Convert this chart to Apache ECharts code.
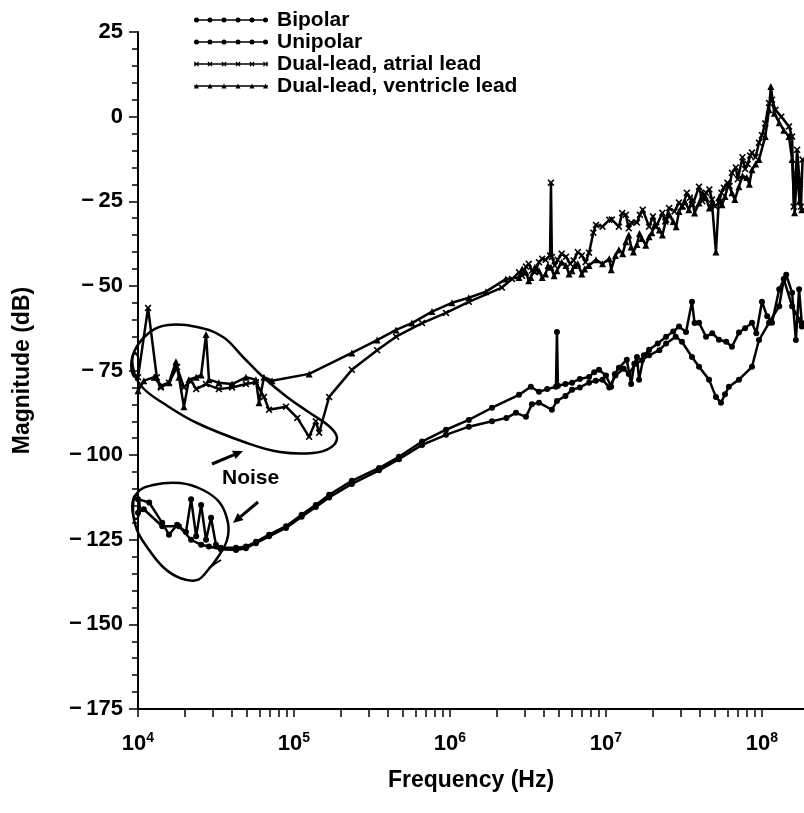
<!DOCTYPE html>
<html><head><meta charset="utf-8">
<script src="https://cdn.jsdelivr.net/npm/echarts@6/dist/echarts.min.js"></script>
<style>html,body{margin:0;padding:0;background:#fff}#c{width:804px;height:813px}</style>
</head><body><div id="c"></div>
<script>
// ---------------- data (frequency Hz, magnitude dB) ----------------
const seriesNames = ['Bipolar', 'Unipolar', 'Dual-lead, atrial lead', 'Dual-lead, ventricle lead'];

const bipolar = [
 [1.0e4,-113],[1.18e4,-114],[1.43e4,-120],[1.58e4,-123.5],[1.78e4,-120.6],[2.03e4,-122.7],[2.19e4,-113],
 [2.36e4,-124],[2.54e4,-114.7],[2.73e4,-125],[2.94e4,-118.5],[3.16e4,-126.5],[3.40e4,-127.4],[4.25e4,-127.4],
 [4.92e4,-127],[5.70e4,-125.6],[6.92e4,-123.5],[8.89e4,-121],[1.12e5,-117.6],[1.38e5,-114.7],[1.68e5,-111.7],
 [2.35e5,-107.6],[3.51e5,-103.8],[4.71e5,-100.5],[6.62e5,-96],[9.43e5,-92.5],[1.32e6,-89.6],[1.86e6,-86],
 [2.77e6,-82.2],[3.30e6,-79.8],[3.72e6,-81.3],[4.20e6,-80.5],[4.78e6,-79.8],[4.85e6,-63.6],[4.92e6,-79.5],
 [5.50e6,-79],[6.06e6,-78.6],[6.80e6,-77.5],[7.79e6,-76.9],[8.40e6,-75.5],[9.02e6,-74.8],[1.00e7,-76.5],
 [1.08e7,-79.8],[1.14e7,-76],[1.21e7,-74.2],[1.36e7,-71.8],[1.45e7,-79],[1.52e7,-73],[1.58e7,-71],
 [1.63e7,-77.7],[1.75e7,-70.5],[1.89e7,-68.9],[2.15e7,-67],[2.43e7,-65],[2.70e7,-63.5],[2.94e7,-62],
 [3.26e7,-63.6],[3.56e7,-54.7],[3.70e7,-61],[3.95e7,-60.9],[4.38e7,-65],[4.80e7,-64],[5.30e7,-65.9],
 [5.90e7,-66.5],[6.42e7,-68],[7.12e7,-63.8],[7.80e7,-62.5],[8.63e7,-60.9],[9.20e7,-64],[1.00e8,-54.7],
 [1.08e8,-59],[1.16e8,-60.9],[1.29e8,-51],[1.43e8,-46.7],[1.56e8,-52],[1.65e8,-66],[1.73e8,-51],[1.80e8,-61]
];

const unipolar = [
 [1.0e4,-117],[1.09e4,-116],[1.43e4,-121],[1.83e4,-121],[2.19e4,-125],[2.54e4,-126.5],[2.85e4,-127],
 [3.40e4,-127.8],[4.25e4,-128],[4.92e4,-127.5],[5.70e4,-126],[6.92e4,-124],[8.89e4,-121.5],[1.12e5,-118.2],
 [1.38e5,-115.3],[1.68e5,-112.5],[2.35e5,-108.5],[3.51e5,-104.5],[4.71e5,-101.2],[6.62e5,-97],[9.43e5,-94],
 [1.32e6,-91.6],[1.86e6,-90],[2.30e6,-89],[2.65e6,-87.5],[3.07e6,-88.7],[3.35e6,-85],[3.72e6,-84.5],
 [4.50e6,-86.6],[4.85e6,-84],[5.50e6,-82.5],[6.06e6,-80.7],[6.80e6,-80],[7.79e6,-78.6],[8.60e6,-78],
 [9.50e6,-77.7],[1.05e7,-80],[1.15e7,-76.5],[1.30e7,-74.5],[1.40e7,-76],[1.55e7,-73],[1.70e7,-72],
 [1.89e7,-70.5],[2.20e7,-69],[2.43e7,-67],[2.80e7,-65],[3.07e7,-66.5],[3.56e7,-71],[3.95e7,-73.9],
 [4.58e7,-77.7],[5.07e7,-82.8],[5.46e7,-84.5],[5.80e7,-82],[6.14e7,-79.8],[7.12e7,-77.7],[8.63e7,-73.9],
 [9.57e7,-66],[1.11e8,-60.9],[1.29e8,-56],[1.38e8,-48],[1.56e8,-56],[1.73e8,-60],[1.80e8,-62]
];

const atrial = [
 [1.0e4,-77],[1.16e4,-56.5],[1.32e4,-77],[1.40e4,-80],[1.58e4,-78.6],[1.78e4,-74],[1.97e4,-80],[2.19e4,-78],
 [2.36e4,-80.5],[2.73e4,-79],[3.30e4,-80.5],[4.01e4,-80],[4.92e4,-79],[5.70e4,-78.5],[6.42e4,-82.8],
 [6.92e4,-86.6],[8.89e4,-85.7],[1.05e5,-89],[1.25e5,-94.6],[1.38e5,-90],[1.45e5,-93.4],[1.68e5,-82.8],
 [2.35e5,-74.8],[3.41e5,-69],[4.51e5,-65],[6.62e5,-61],[9.43e5,-58],[1.32e6,-54.7],[2.15e6,-50.5],
 [2.50e6,-48],[2.77e6,-46],[2.90e6,-47],[3.07e6,-44.3],[3.20e6,-43.5],[3.35e6,-45.5],[3.50e6,-46],
 [3.72e6,-43],[3.90e6,-42],[4.10e6,-42.3],[4.38e6,-41],[4.44e6,-19.5],[4.50e6,-41.5],[4.70e6,-44],
 [4.90e6,-42.3],[5.20e6,-40.5],[5.54e6,-41.4],[5.90e6,-43.5],[6.20e6,-42.5],[6.60e6,-40],[7.00e6,-41],
 [7.40e6,-43],[7.79e6,-40.2],[8.30e6,-34.3],[8.63e6,-32],[9.50e6,-32.5],[1.05e7,-30.5],[1.09e7,-30.4],
 [1.21e7,-32.5],[1.27e7,-28.5],[1.34e7,-29],[1.40e7,-33],[1.45e7,-31.3],[1.58e7,-31.3],[1.65e7,-29],
 [1.72e7,-27.5],[1.89e7,-32.5],[2.00e7,-29.5],[2.10e7,-32.5],[2.30e7,-28.4],[2.40e7,-31],[2.54e7,-27],
 [2.75e7,-28],[2.94e7,-25.4],[3.10e7,-26.5],[3.30e7,-22.5],[3.45e7,-24],[3.60e7,-26],[3.95e7,-20.7],
 [4.15e7,-25],[4.38e7,-22.5],[4.60e7,-21.5],[4.78e7,-24.5],[5.00e7,-26.5],[5.30e7,-25.4],[5.50e7,-22.5],
 [5.70e7,-21],[6.00e7,-19.5],[6.20e7,-20.5],[6.42e7,-16.6],[6.80e7,-15],[7.00e7,-18.5],[7.50e7,-12],
 [7.80e7,-15.5],[8.10e7,-14],[8.40e7,-11.5],[8.63e7,-10.6],[9.10e7,-12],[9.57e7,-7.7],[1.00e8,-5.5],
 [1.05e8,-2],[1.11e8,4],[1.16e8,5],[1.22e8,2],[1.33e8,0],[1.49e8,-2.9],[1.56e8,-5.9],[1.60e8,-26.6],
 [1.68e8,-9.8],[1.75e8,-20],[1.78e8,-26.6],[1.82e8,-12.7]
];

const ventricle = [
 [1.0e4,-81],[1.09e4,-78],[1.27e4,-77],[1.40e4,-79.5],[1.58e4,-78.6],[1.75e4,-72.4],[1.83e4,-77],
 [1.97e4,-85.7],[2.12e4,-77.7],[2.36e4,-77],[2.54e4,-76.3],[2.73e4,-64.4],[2.85e4,-77.7],[3.30e4,-78.6],
 [4.01e4,-79],[4.92e4,-77],[5.70e4,-77.7],[5.97e4,-84.5],[6.42e4,-77],[7.23e4,-78],[1.25e5,-76],
 [2.35e5,-69.8],[3.41e5,-66],[4.51e5,-63],[5.70e5,-61],[7.67e5,-57.6],[1.03e6,-55],[1.32e6,-53.5],
 [1.70e6,-51.7],[2.28e6,-48],[2.77e6,-47.5],[2.90e6,-45],[3.07e6,-46],[3.20e6,-48.5],[3.30e6,-47.5],
 [3.50e6,-44.5],[3.72e6,-45.5],[3.90e6,-47.5],[4.10e6,-46.5],[4.25e6,-44],[4.44e6,-44.5],[4.65e6,-47],
 [4.85e6,-45.5],[5.20e6,-43],[5.54e6,-44],[5.80e6,-46.5],[6.06e6,-45.5],[6.30e6,-44],[6.60e6,-43.5],
 [7.00e6,-46.5],[7.30e6,-45],[7.79e6,-44],[8.63e6,-42.3],[9.50e6,-43.5],[1.05e7,-42],[1.08e7,-45.2],
 [1.15e7,-41],[1.21e7,-39.3],[1.28e7,-40.5],[1.34e7,-37],[1.40e7,-35],[1.45e7,-38.5],[1.50e7,-40],
 [1.58e7,-37.8],[1.64e7,-34.5],[1.70e7,-36],[1.80e7,-38],[1.89e7,-35.5],[1.97e7,-34.3],[2.05e7,-32],
 [2.20e7,-33.5],[2.30e7,-35],[2.43e7,-30.4],[2.55e7,-29],[2.70e7,-31],[2.82e7,-32.5],[2.94e7,-28],
 [3.07e7,-26.5],[3.20e7,-25],[3.40e7,-27.5],[3.56e7,-24.5],[3.70e7,-28.5],[3.95e7,-25.5],[4.15e7,-22.5],
 [4.38e7,-24],[4.60e7,-27],[4.78e7,-25.5],[5.07e7,-40],[5.30e7,-24],[5.55e7,-26],[5.80e7,-23.6],
 [6.10e7,-20],[6.42e7,-22.5],[6.70e7,-24.5],[7.12e7,-20.7],[7.50e7,-17.5],[8.00e7,-18],[8.30e7,-20],
 [8.63e7,-15.7],[9.10e7,-14],[9.57e7,-12.7],[1.05e8,-5.9],[1.11e8,2],[1.14e8,8.9],[1.20e8,1],[1.29e8,-1.8],
 [1.38e8,-4],[1.49e8,-5.9],[1.56e8,-12.7],[1.62e8,-28.4],[1.68e8,-15.7],[1.74e8,-25],[1.80e8,-27.5]
];

const xLabelValues = [1e4, 1e5, 1e6, 1e7, 1e8];
const xLabelExponents = ['4', '5', '6', '7', '8'];
const yTickLabels = [25, 0, -25, -50, -75, -100, -125, -150, -175];

// ---------------- rendering ----------------
const FONT = '"Liberation Sans", Arial, Helvetica, sans-serif';
const X_MIN = 1e4, X_MAX = 1.86e8;

const xTickValues = [];
for (let d = 4; d <= 8; d++) for (let k = 1; k <= 9; k++) {
  const v = k * Math.pow(10, d);
  if (v <= X_MAX) xTickValues.push(v);
}

const X_SYMBOL = 'path://M0,1.6L1.6,0L5,3.4L8.4,0L10,1.6L6.6,5L10,8.4L8.4,10L5,6.6L1.6,10L0,8.4L3.4,5Z';

function markerPath(kind, cx, cy, r) {
  if (kind === 'circle') {
    return `M${cx - r},${cy}A${r},${r} 0 1,1 ${cx + r},${cy}A${r},${r} 0 1,1 ${cx - r},${cy}Z`;
  }
  if (kind === 'triangle') {
    return `M${cx - r},${cy + r}L${cx},${cy - r}L${cx + r},${cy + r}Z`;
  }
  const t = r * 0.35;
  const p = [[-r, -r + t], [-r + t, -r], [0, -t], [r - t, -r], [r, -r + t], [t, 0], [r, r - t], [r - t, r], [0, t], [-r + t, r], [-r, r - t], [-t, 0]];
  return 'M' + p.map(q => (cx + q[0]) + ',' + (cy + q[1])).join('L') + 'Z';
}
function legendIcon(kind) {
  let p = 'M0,1.8L74,1.8L74,3.2L0,3.2Z';
  [2.5, 16, 30, 44, 58, 71.5].forEach(x => { p += markerPath(kind, x, 2.5, 2.5); });
  return 'path://' + p;
}

const seriesSymbols = ['circle', 'circle', X_SYMBOL, 'triangle'];
const seriesSizes = [6, 6, 7, 7];
const legendKinds = ['circle', 'circle', 'x', 'triangle'];
const seriesData = [bipolar, unipolar, atrial, ventricle];

const chart = echarts.init(document.getElementById('c'), null, { renderer: 'canvas' });

function arrow(x1, y1, x2, y2) {
  const a = Math.atan2(y2 - y1, x2 - x1), L = 10, W = 4.5;
  const bx = x2 - L * Math.cos(a), by = y2 - L * Math.sin(a);
  return [
    { type: 'line', shape: { x1, y1, x2: bx, y2: by }, style: { stroke: '#000', lineWidth: 3 } },
    { type: 'polygon', shape: { points: [[x2, y2], [bx - W * Math.sin(a), by + W * Math.cos(a)], [bx + W * Math.sin(a), by - W * Math.cos(a)]] }, style: { fill: '#000' } }
  ];
}

const loopStyle = { fill: 'none', stroke: '#000', lineWidth: 2.5 };
const annotations = [
  { type: 'polygon', shape: { smooth: 0.4, points: [[134,352],[150,332],[168,325],[197,327],[223,337],[243,357],[263,377],[287,397],[310,413],[330,427],[337,438],[330,448],[313,453],[280,452],[247,443],[197,423],[163,403],[143,388],[134,372]] }, style: loopStyle },
  { type: 'ellipse', shape: { cx: 135, cy: 365, rx: 4, ry: 12 }, style: { fill: 'none', stroke: '#000', lineWidth: 2 } },
  { type: 'polygon', shape: { smooth: 0.4, points: [[137,493],[153,485],[180,483],[203,490],[220,503],[228,523],[227,540],[218,557],[208,570],[197,580],[180,578],[163,567],[147,547],[137,530],[133,510]] }, style: loopStyle },
  { type: 'ellipse', shape: { cx: 136, cy: 507, rx: 4, ry: 12 }, style: { fill: 'none', stroke: '#000', lineWidth: 2 } },
  { type: 'polyline', shape: { points: [[209, 568], [216, 563], [221, 560]] }, style: { fill: 'none', stroke: '#000', lineWidth: 2 } },
  ...arrow(212, 464, 243, 451),
  ...arrow(258, 502, 233, 523),
  { type: 'text', left: 222, top: 468, style: { text: 'Noise', font: 'bold 21px ' + FONT, fill: '#000' } }
];

chart.setOption({
  animation: false,
  backgroundColor: '#fff',
  textStyle: { fontFamily: FONT, color: '#000' },
  grid: { left: 138, right: 0, top: 32, bottom: 104, containLabel: false },
  legend: {
    orient: 'vertical', left: 189, top: 4, itemGap: 0, itemWidth: 74, itemHeight: 5,
    selectedMode: false,
    textStyle: { fontFamily: FONT, fontSize: 21, fontWeight: 'bold', color: '#000', lineHeight: 22, padding: [0, 0, 0, 4] },
    data: seriesNames.map((n, i) => ({ name: n, icon: legendIcon(legendKinds[i]) }))
  },
  xAxis: {
    type: 'log', logBase: 10, min: X_MIN, max: X_MAX,
    name: 'Frequency (Hz)', nameLocation: 'middle', nameGap: 60,
    nameTextStyle: { fontFamily: FONT, fontSize: 23, fontWeight: 'bold', color: '#000' },
    axisLine: { show: true, onZero: false, lineStyle: { color: '#000', width: 2 } },
    axisTick: { show: true, length: 8, lineStyle: { color: '#000', width: 1.5 }, customValues: xTickValues },
    axisLabel: {
      show: true, margin: 22, customValues: xLabelValues,
      formatter: v => {
        const i = xLabelValues.findIndex(x => Math.abs(Math.log10(x) - Math.log10(v)) < 1e-6);
        return '{b|10}{s|' + (i >= 0 ? xLabelExponents[i] : Math.round(Math.log10(v))) + '}';
      },
      rich: {
        b: { fontFamily: FONT, fontSize: 22, fontWeight: 'bold', color: '#000', verticalAlign: 'bottom', lineHeight: 24 },
        s: { fontFamily: FONT, fontSize: 14, fontWeight: 'bold', color: '#000', verticalAlign: 'bottom', padding: [0, 0, 10, 0] }
      }
    },
    splitLine: { show: false }, minorTick: { show: false }
  },
  yAxis: {
    type: 'value', min: -175, max: 25, interval: 25,
    name: 'Magnitude (dB)', nameLocation: 'middle', nameGap: 104, nameRotate: 90,
    nameTextStyle: { fontFamily: FONT, fontSize: 23, fontWeight: 'bold', color: '#000' },
    axisLine: { show: true, onZero: false, lineStyle: { color: '#000', width: 2 } },
    axisTick: { show: true, length: 9, lineStyle: { color: '#000', width: 1.5 } },
    minorTick: { show: true, splitNumber: 5, length: 6, lineStyle: { color: '#000', width: 1.5 } },
    axisLabel: {
      margin: 15, fontFamily: FONT, fontSize: 22, fontWeight: 'bold', color: '#000',
      formatter: v => (yTickLabels.includes(v) ? (v < 0 ? '\u2212\u2009' + (-v) : String(v)) : '')
    },
    splitLine: { show: false }
  },
  series: seriesData.map((d, i) => ({
    name: seriesNames[i], type: 'line', data: d,
    symbol: seriesSymbols[i], symbolSize: seriesSizes[i], showSymbol: true,
    lineStyle: { color: '#000', width: 2.5 },
    itemStyle: { color: '#000' },
    emphasis: { disabled: true }, z: 2
  })),
  graphic: annotations
});
</script>
</body></html>
